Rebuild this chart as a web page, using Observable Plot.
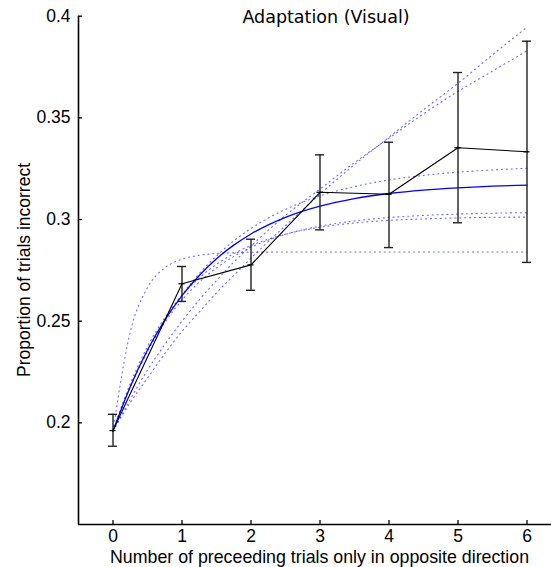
<!DOCTYPE html>
<html>
<head>
<meta charset="utf-8">
<script src="https://cdn.jsdelivr.net/npm/d3@7"></script>
<script src="https://cdn.jsdelivr.net/npm/@observablehq/plot@0.6"></script>
<style>
  html, body { margin: 0; padding: 0; background: #fff; }
  #chart svg { display: block; }
</style>
</head>
<body>
<div id="chart"></div>
<script>
// ---- data ----
const titleText = "Adaptation (Visual)";
const xLabel = "Number of preceeding trials only in opposite direction";
const yLabel = "Proportion of trials incorrect";

const xTicks = [0, 1, 2, 3, 4, 5, 6];
const yTicks = [0.2, 0.25, 0.3, 0.35, 0.4];
const yTickLabels = ["0.2", "0.25", "0.3", "0.35", "0.4"];

// observed means with error bars
const trials = [0, 1, 2, 3, 4, 5, 6];
const means  = [0.1962, 0.2684, 0.2777, 0.3134, 0.3124, 0.3353, 0.3333];
const upper  = [0.2042, 0.2769, 0.2903, 0.3318, 0.3380, 0.3723, 0.3877];
const lower  = [0.1885, 0.2597, 0.2652, 0.2949, 0.2862, 0.2984, 0.2789];

// fitted curve (solid blue), sampled along x
const fitX = [0, 0.25, 0.5, 0.75, 1, 1.25, 1.5, 1.75, 2, 2.5, 3, 3.5, 4, 4.5, 5, 5.5, 6];
const fitY = [0.196, 0.2178, 0.2358, 0.2505, 0.2626, 0.2725, 0.2807, 0.2874, 0.2929, 0.3011, 0.3066, 0.3103, 0.3128, 0.3145, 0.3156, 0.3164, 0.3169];

// dotted alternative curves (same x samples)
const dotA  = [0.196, 0.2447, 0.2665, 0.2762, 0.2805, 0.2824, 0.2833, 0.2837, 0.2839, 0.284, 0.284, 0.284, 0.284, 0.284, 0.284, 0.284, 0.284];
const dotM1 = [0.196, 0.2193, 0.2375, 0.2517, 0.2627, 0.2713, 0.278, 0.2832, 0.2872, 0.2928, 0.2962, 0.2983, 0.2996, 0.3003, 0.3008, 0.3011, 0.3012];
const dotM2 = [0.196, 0.2179, 0.2354, 0.2493, 0.2604, 0.2692, 0.2762, 0.2818, 0.2863, 0.2927, 0.2967, 0.2993, 0.301, 0.302, 0.3027, 0.3031, 0.3034];
const dotM3 = [0.196, 0.2174, 0.2353, 0.2503, 0.2629, 0.2734, 0.2821, 0.2895, 0.2956, 0.305, 0.3116, 0.3162, 0.3195, 0.3217, 0.3233, 0.3244, 0.3252];
const dotU1 = [0.196, 0.210, 0.222, 0.234, 0.245, 0.2545, 0.264, 0.2725, 0.281, 0.297, 0.3125, 0.327, 0.3405, 0.354, 0.367, 0.381, 0.3946];
const dotU2 = [0.196, 0.2115, 0.226, 0.2385, 0.250, 0.2605, 0.270, 0.279, 0.287, 0.302, 0.315, 0.328, 0.340, 0.352, 0.363, 0.373, 0.383];

// ---- tables built from the arrays ----
const obs = trials.map((x, i) => ({x, y: means[i], hi: upper[i], lo: lower[i]}));
const fit = fitX.map((x, i) => ({x, y: fitY[i]}));
const dotted = [["A", dotA], ["M1", dotM1], ["M2", dotM2], ["M3", dotM3], ["U1", dotU1], ["U2", dotU2]]
  .flatMap(([k, arr]) => arr.map((y, i) => ({k, x: fitX[i], y})));

const W = 551, H = 567;
const capHalf = 0.065;
const midHalf = 0.045;

const svg = Plot.plot({
  width: W,
  height: H,
  marginLeft: 78,
  marginRight: 0,
  marginTop: 16,
  marginBottom: 43,
  style: {fontFamily: "'Liberation Sans', Arial, Helvetica, sans-serif", fontSize: "17.5px", color: "#000", background: "#fff", overflow: "hidden"},
  x: {domain: [-0.5, 6.5], range: [78, 561]},
  y: {domain: [0.15, 0.4], range: [524, 15.7]},
  marks: [
    // dotted curves
    Plot.line(dotted, {x: "x", y: "y", z: "k", curve: "monotone-x", stroke: "#2a2aff", strokeOpacity: 0.7, strokeWidth: 1.1, strokeDasharray: "1.1,3.8"}),
    // fitted curve
    Plot.line(fit, {x: "x", y: "y", curve: "monotone-x", stroke: "#0000ff", strokeWidth: 1.3}),
    // error bars
    Plot.ruleX(obs, {x: "x", y1: "lo", y2: "hi", stroke: "#222", strokeWidth: 1.4}),
    Plot.ruleY(obs, {y: "hi", x1: d => d.x - capHalf, x2: d => d.x + capHalf, stroke: "#222", strokeWidth: 1.4}),
    Plot.ruleY(obs, {y: "lo", x1: d => d.x - capHalf, x2: d => d.x + capHalf, stroke: "#222", strokeWidth: 1.4}),
    Plot.ruleY(obs, {y: "y", x1: d => d.x - midHalf, x2: d => d.x + midHalf, stroke: "#000", strokeWidth: 1.2}),
    // observed line
    Plot.line(obs, {x: "x", y: "y", stroke: "#000", strokeWidth: 1.1}),
    // axes: inward ticks
    Plot.axisX({ticks: xTicks, tickSize: -4, tickFormat: null, text: null, label: null, strokeWidth: 1.3}),
    Plot.axisX({ticks: xTicks, tickSize: 0, tickPadding: 5.5, tickFormat: d => String(d), label: null}),
    Plot.axisY({ticks: yTicks, tickSize: -4, text: null, label: null, strokeWidth: 1.3}),
    Plot.axisY({ticks: yTicks, tickSize: 0, tickPadding: 8, tickFormat: d => yTickLabels[yTicks.indexOf(d)], label: null}),
    // axis lines
    Plot.ruleX([-0.5], {y1: 0.15, y2: 0.4, stroke: "#000", strokeWidth: 1.6}),
    Plot.ruleY([0.15], {x1: -0.5, x2: 6.5, stroke: "#000", strokeWidth: 1.6})
  ]
});

const s = d3.select(svg);
s.append("text")
  .attr("x", 326).attr("y", 23)
  .attr("text-anchor", "middle")
  .style("font-family", "'DejaVu Sans', sans-serif")
  .style("font-size", "17.5px")
  .attr("fill", "#000")
  .text(titleText);
s.append("text")
  .attr("x", 319.5).attr("y", 562.5)
  .attr("text-anchor", "middle")
  .style("font-size", "17.8px")
  .attr("fill", "#000")
  .text(xLabel);
s.append("text")
  .attr("transform", "translate(30,270) rotate(-90)")
  .attr("text-anchor", "middle")
  .attr("fill", "#000")
  .text(yLabel);

document.getElementById("chart").appendChild(svg);
</script>
</body>
</html>
